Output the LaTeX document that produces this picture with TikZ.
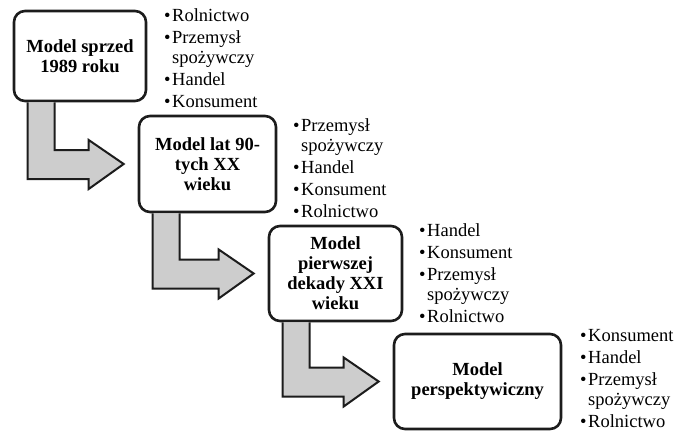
\documentclass[tikz,border=0pt]{standalone}
\usepackage{fontspec}
\setmainfont{Liberation Serif}
\usetikzlibrary{calc}
\definecolor{shaftgray}{RGB}{205,205,205}
\definecolor{ink}{RGB}{28,28,28}
\newcommand{\itm}{\makebox[8pt][l]{\textbullet}}
\newcommand{\cont}{\hspace*{8pt}}
\newcommand{\stagearrow}[2]{%
 \coordinate (tip) at ($(#2.west)+(-14,0)$);
 \path[blockarrow] ($(#1.south west)+(15,0)$)
  |- ($(tip)+(-35,15)$) -- ++(0,10) -- (tip)
  -- ($(tip)+(-35,-24)$) -- ++(0,10) -| ($(#1.south west)+(42,0)$);}

\begin{document}
\begin{tikzpicture}[x=1pt,y=-1pt,
 stage/.style={draw=ink,fill=white,line width=2.6pt,rounded corners=11pt,
  align=center,inner sep=0pt,font=\fontsize{18.5}{20}\selectfont\bfseries},
 items/.style={align=left,anchor=base west,inner sep=0pt,
  font=\fontsize{18.5}{20}\selectfont},
 blockarrow/.style={fill=shaftgray,draw=ink,line width=2pt,line join=miter}]
\useasboundingbox (0,0) rectangle (674,431);
\node[stage,minimum width=132pt,minimum height=90pt] (m1) at (80,56)
 {Model sprzed\\1989 roku};
\node[stage,minimum width=137pt,minimum height=96pt] (m2) at (207.5,164)
 {Model lat 90-\\tych XX\\wieku};
\node[stage,minimum width=133pt,minimum height=95pt] (m3) at (335.5,273.5)
 {Model\\pierwszej\\dekady XXI\\wieku};
\node[stage,minimum width=167pt,minimum height=95pt] (m4) at (477.5,381.5)
 {Model\\perspektywiczny};
\foreach \a/\b in {m1/m2,m2/m3,m3/m4}{\stagearrow{\a}{\b}}
\node[items] (l1) at (164,107) {\itm Rolnictwo\\[2pt]\itm Przemysł\\
 \cont spożywczy\\[2pt]\itm Handel\\[2pt]\itm Konsument};
\node[items] (l2) at (293,217) {\itm Przemysł\\\cont spożywczy\\[2pt]
 \itm Handel\\[2pt]\itm Konsument\\[2pt]\itm Rolnictwo};
\node[items] (l3) at (419,322) {\itm Handel\\[2pt]\itm Konsument\\[2pt]
 \itm Przemysł\\\cont spożywczy\\[2pt]\itm Rolnictwo};
\node[items] (l4) at (580,427) {\itm Konsument\\[2pt]\itm Handel\\[2pt]
 \itm Przemysł\\\cont spożywczy\\[2pt]\itm Rolnictwo};
\end{tikzpicture}
\end{document}
